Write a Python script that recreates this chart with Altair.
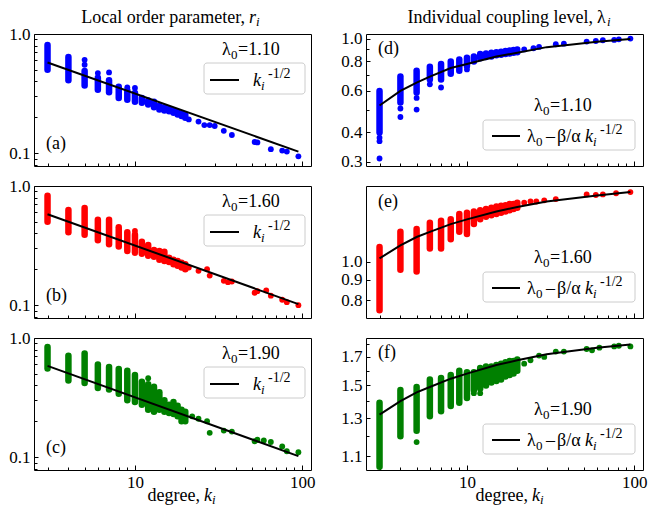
import altair as alt
import pandas as pd

FONT = "Liberation Serif"
BLUE, RED, GREEN = "#0000ff", "#ff0000", "#008000"

# ---------------- data ----------------
STRIP_K = [3, 4, 5, 6, 7, 8, 9, 10, 11, 12, 13, 14, 15, 16, 17, 18, 19, 20]

# (a) local order parameter, lambda0 = 1.10
A_LO = [0.50, 0.41, 0.37, 0.34, 0.325, 0.29, 0.28, 0.27, 0.265, 0.256, 0.243, 0.233, 0.228, 0.225, 0.218, 0.211, 0.205, 0.198]
A_HI = [0.81, 0.64, 0.49, 0.43, 0.41, 0.36, 0.335, 0.32, 0.29, 0.277, 0.27, 0.25, 0.243, 0.235, 0.228, 0.222, 0.215, 0.21]
A_DOT_K = [5, 5, 6, 7, 9, 10, 21, 24, 26, 28, 30, 34, 38, 52, 54, 65, 76, 81, 95]
A_DOT_V = [0.607, 0.552, 0.47, 0.476, 0.357, 0.353, 0.192, 0.184, 0.172, 0.172, 0.169, 0.154, 0.142, 0.124, 0.123, 0.108, 0.105, 0.103, 0.094]

# (b) lambda0 = 1.60
B_LO = [0.50, 0.41, 0.39, 0.35, 0.325, 0.31, 0.285, 0.275, 0.27, 0.26, 0.255, 0.24, 0.235, 0.23, 0.22, 0.214, 0.207, 0.20]
B_HI = [0.83, 0.63, 0.655, 0.52, 0.52, 0.45, 0.41, 0.39, 0.34, 0.32, 0.29, 0.285, 0.28, 0.25, 0.24, 0.235, 0.227, 0.22]
B_DOT_K = [10, 21, 24, 27, 28, 34, 36, 38, 52, 54, 61, 65, 76, 81, 95]
B_DOT_V = [0.42, 0.207, 0.194, 0.20, 0.177, 0.16, 0.156, 0.158, 0.127, 0.131, 0.133, 0.12, 0.111, 0.106, 0.10]

# (c) lambda0 = 1.90
C_LO = [0.555, 0.44, 0.42, 0.38, 0.37, 0.34, 0.30, 0.29, 0.275, 0.25, 0.24, 0.25, 0.24, 0.235, 0.23, 0.22, 0.20, 0.20]
C_HI = [0.84, 0.71, 0.74, 0.60, 0.57, 0.55, 0.53, 0.49, 0.43, 0.41, 0.39, 0.35, 0.30, 0.275, 0.29, 0.27, 0.25, 0.24]
C_DOT_K = [12, 22, 24, 27, 28, 34, 38, 52, 54, 59, 65, 76, 81, 95]
C_DOT_V = [0.46, 0.22, 0.21, 0.20, 0.16, 0.167, 0.164, 0.136, 0.14, 0.138, 0.134, 0.123, 0.112, 0.11]

# k^-1/2 reference lines (left column)
LEFT_LINE_K = [3, 95]
A_LINE_V = [0.577, 0.103]
B_LINE_V = [0.58, 0.102]
C_LINE_V = [0.584, 0.102]

# (d) individual coupling level, lambda0 = 1.10
D_LO = [0.40, 0.535, 0.59, 0.67, 0.67, 0.71, 0.73, 0.765, 0.80, 0.825, 0.835, 0.84, 0.85, 0.855, 0.86, 0.865, 0.87, 0.875]
D_HI = [0.60, 0.69, 0.73, 0.76, 0.78, 0.80, 0.815, 0.83, 0.84, 0.86, 0.865, 0.87, 0.875, 0.88, 0.885, 0.89, 0.895, 0.90]
D_DOT_K = [3, 3, 3, 4, 4, 5, 5, 6, 7, 10, 22, 25, 27, 34, 38, 52, 59, 65, 76, 81, 95]
D_DOT_V = [0.38, 0.367, 0.31, 0.505, 0.465, 0.56, 0.50, 0.64, 0.62, 0.74, 0.90, 0.91, 0.922, 0.946, 0.952, 0.971, 0.977, 0.984, 0.987, 0.993, 1.0]

# (e) lambda0 = 1.60
E_LO = [0.754, 0.955, 0.945, 1.08, 1.08, 1.14, 1.19, 1.175, 1.245, 1.28, 1.30, 1.31, 1.32, 1.33, 1.34, 1.35, 1.36, 1.37]
E_HI = [1.09, 1.19, 1.21, 1.255, 1.27, 1.28, 1.32, 1.33, 1.34, 1.35, 1.36, 1.37, 1.38, 1.385, 1.39, 1.40, 1.40, 1.41]
E_DOT_K = [22, 24, 26, 29, 34, 52, 59, 65, 78, 95]
E_DOT_V = [1.41, 1.42, 1.42, 1.43, 1.44, 1.48, 1.475, 1.48, 1.49, 1.50]

# (f) lambda0 = 1.90
F_LO = [1.05, 1.20, 1.23, 1.31, 1.34, 1.37, 1.39, 1.42, 1.47, 1.48, 1.50, 1.52, 1.53, 1.54, 1.56, 1.57, 1.58, 1.60]
F_HI = [1.39, 1.47, 1.49, 1.54, 1.55, 1.57, 1.60, 1.59, 1.59, 1.62, 1.63, 1.63, 1.64, 1.65, 1.66, 1.67, 1.67, 1.68]
F_DOT_K = [5, 11, 12, 20, 22, 24, 27, 29, 34, 38, 52, 56, 62, 76, 81, 95]
F_DOT_V = [1.17, 1.45, 1.45, 1.675, 1.65, 1.675, 1.71, 1.70, 1.74, 1.74, 1.76, 1.75, 1.77, 1.78, 1.785, 1.78]

# lambda0 - beta/alpha k^-1/2 reference curves (right column)
RIGHT_LINE_K = [3, 4, 5, 6, 8, 10, 15, 20, 30, 40, 60, 95]
D_LINE_V = [0.52, 0.60, 0.65, 0.69, 0.75, 0.78, 0.84, 0.87, 0.92, 0.94, 0.97, 0.997]
E_LINE_V = [1.02, 1.10, 1.155, 1.19, 1.245, 1.28, 1.34, 1.375, 1.42, 1.44, 1.47, 1.50]
F_LINE_V = [1.32, 1.40, 1.455, 1.49, 1.545, 1.58, 1.64, 1.675, 1.72, 1.74, 1.77, 1.795]

# axes
X_DOMAIN = [2.49, 113]
X_MAJOR = [10, 100]
X_MINOR = [3, 4, 5, 6, 7, 8, 9, 20, 30, 40, 50, 60, 70, 80, 90]
LEFT_Y_DOMAIN = [0.078, 1.0]
LEFT_Y_MAJOR = [0.1, 1.0]
LEFT_Y_MINOR = [0.08, 0.09, 0.2, 0.3, 0.4, 0.5, 0.6, 0.7, 0.8, 0.9]
D_Y_DOMAIN = [0.288, 1.046]
D_Y_MAJOR = [0.3, 0.4, 0.6, 0.8, 1.0]
D_Y_MINOR = [0.5, 0.7, 0.9]
E_Y_DOMAIN = [0.721, 1.554]
E_Y_MAJOR = [0.8, 0.9, 1.0]
E_Y_MINOR = []
F_Y_DOMAIN = [1.035, 1.847]
F_Y_MAJOR = [1.1, 1.3, 1.5, 1.7]
F_Y_MINOR = [1.2, 1.4, 1.6, 1.8]

LAMBDAS = ["=1.10", "=1.60", "=1.90"]

W, H = 277, 132
FS = 18
TFS = 17
SUB = 13
ONE = pd.DataFrame({"a": [0]})


def txt(s, x, y, size=FS, italic=False, align="left"):
    return alt.Chart(ONE).mark_text(
        text=s, font=FONT, fontSize=size, fontStyle="italic" if italic else "normal",
        align=align, baseline="alphabetic", color="black"
    ).encode(x=alt.value(x), y=alt.value(y))


def axis(values, orient, size, labels):
    kw = dict(values=values, orient=orient, tickSize=size, offset=-size, labels=labels,
              domain=False, grid=False, title=None, tickColor="black", tickWidth=1)
    if labels:
        kw.update(format=".1f" if orient == "left" else "d", labelPadding=4,
                  labelFont=FONT, labelFontSize=TFS, labelColor="black",
                  labelOverlap=False, labelFlush=False)
    return alt.Axis(**kw)


def panel(color, lo, hi, dk, dv, lk, lv, ydom, ymaj, ymin, bottom, letter, letter_y,
          lam, left, title=None):
    xs = alt.Scale(type="log", domain=X_DOMAIN, nice=False, zero=False)
    ys = alt.Scale(type="log", domain=ydom, nice=False, zero=False)
    strips = alt.Chart(pd.DataFrame({"k": STRIP_K, "lo": lo, "hi": hi})).mark_rule(
        color=color, strokeWidth=6.5, strokeCap="round"
    ).encode(
        x=alt.X("k:Q", scale=xs, axis=axis(X_MAJOR, "bottom", 5, bottom)),
        y=alt.Y("lo:Q", scale=ys, axis=axis(ymaj, "left", 4, True)),
        y2="hi:Q",
    )
    dots = alt.Chart(pd.DataFrame({"k": dk, "v": dv})).mark_circle(
        color=color, size=34, opacity=1
    ).encode(
        x=alt.X("k:Q", scale=xs, axis=None),
        y=alt.Y("v:Q", scale=ys, axis=None),
    )
    line = alt.Chart(pd.DataFrame({"k": lk, "v": lv})).mark_line(
        color="black", strokeWidth=2
    ).encode(
        x=alt.X("k:Q", scale=xs, axis=axis(X_MINOR, "bottom", 3, False)),
        y=alt.Y("v:Q", scale=ys, axis=axis(ymin, "left", 3, False) if ymin else None),
    )
    layers = [strips, dots, line]
    if left:
        bx0, bx1, by0, by1 = 170, 271, 29, 60
        ly = 46
        layers += [
            alt.Chart(ONE).mark_rect(fill="white", fillOpacity=0.8, stroke="#cccccc",
                                     strokeWidth=1, cornerRadius=3).encode(
                x=alt.value(bx0), x2=alt.value(bx1), y=alt.value(by0), y2=alt.value(by1)),
            alt.Chart(ONE).mark_rule(color="black", strokeWidth=2).encode(
                x=alt.value(176), x2=alt.value(205), y=alt.value(ly)),
            txt("k", 219, ly + 6, italic=True),
            txt("i", 227, ly + 10, size=SUB, italic=True),
            txt("-1/2", 234, ly - 2, size=14),
            txt("λ", 188, 21), txt("0", 197, 25, size=SUB), txt(lam, 204, 21),
        ]
    else:
        bx0, bx1, by0, by1 = 117, 269, 86, 116
        ly = 102
        layers += [
            alt.Chart(ONE).mark_rect(fill="white", fillOpacity=0.8, stroke="#cccccc",
                                     strokeWidth=1, cornerRadius=3).encode(
                x=alt.value(bx0), x2=alt.value(bx1), y=alt.value(by0), y2=alt.value(by1)),
            alt.Chart(ONE).mark_rule(color="black", strokeWidth=2).encode(
                x=alt.value(126), x2=alt.value(154), y=alt.value(ly)),
            txt("λ", 161, ly + 6), txt("0", 170, ly + 10, size=SUB),
            txt("–", 180, ly + 6),
            txt("β/α", 191, ly + 6),
            txt("k", 219, ly + 6, italic=True),
            txt("i", 227, ly + 10, size=SUB, italic=True),
            txt("-1/2", 234, ly - 2, size=14),
            txt("λ", 168, 77), txt("0", 177, 81, size=SUB), txt(lam, 184, 77),
        ]
    layers.append(txt(letter, 12, letter_y))
    if bottom:
        cx = 166 if left else 162
        layers += [txt("degree,", cx, H + 31, align="right"),
                   txt("k", cx + 4, H + 31, italic=True),
                   txt("i", cx + 12, H + 34, size=SUB, italic=True)]
    if title is not None:
        main, end, is_r = title
        layers += [txt(main, end, -11, align="right")]
        if is_r:
            layers += [txt("r", end + 4, -11, italic=True),
                       txt("i", end + 11, -8, size=SUB, italic=True)]
        else:
            layers += [txt("λ", end + 4, -11),
                       txt("i", end + 14, -8, size=SUB, italic=True)]
    return alt.layer(*layers).resolve_axis(x="independent", y="independent").properties(
        width=W, height=H)


pa = panel(BLUE, A_LO, A_HI, A_DOT_K, A_DOT_V, LEFT_LINE_K, A_LINE_V, LEFT_Y_DOMAIN,
           LEFT_Y_MAJOR, LEFT_Y_MINOR, False, "(a)", 115, LAMBDAS[0], True,
           title=("Local order parameter,", 211, True))
pb = panel(RED, B_LO, B_HI, B_DOT_K, B_DOT_V, LEFT_LINE_K, B_LINE_V, LEFT_Y_DOMAIN,
           LEFT_Y_MAJOR, LEFT_Y_MINOR, False, "(b)", 115, LAMBDAS[1], True)
pc = panel(GREEN, C_LO, C_HI, C_DOT_K, C_DOT_V, LEFT_LINE_K, C_LINE_V, LEFT_Y_DOMAIN,
           LEFT_Y_MAJOR, LEFT_Y_MINOR, True, "(c)", 115, LAMBDAS[2], True)
pd_ = panel(BLUE, D_LO, D_HI, D_DOT_K, D_DOT_V, RIGHT_LINE_K, D_LINE_V, D_Y_DOMAIN,
            D_Y_MAJOR, D_Y_MINOR, False, "(d)", 20, LAMBDAS[0], False,
            title=("Individual coupling level,", 227, False))
pe = panel(RED, E_LO, E_HI, E_DOT_K, E_DOT_V, RIGHT_LINE_K, E_LINE_V, E_Y_DOMAIN,
           E_Y_MAJOR, E_Y_MINOR, False, "(e)", 21, LAMBDAS[1], False)
pf = panel(GREEN, F_LO, F_HI, F_DOT_K, F_DOT_V, RIGHT_LINE_K, F_LINE_V, F_Y_DOMAIN,
           F_Y_MAJOR, F_Y_MINOR, True, "(f)", 20, LAMBDAS[2], False)

chart = alt.concat(pa, pd_, pb, pe, pc, pf, columns=2,
                   spacing={"row": 20, "column": 55}, bounds="flush").properties(
    padding={"left": 0, "top": 0, "right": 0, "bottom": 0}
).configure_view(stroke="black", strokeWidth=1).configure_axis(grid=False)

chart.save("out.html", embed_options={"renderer": "svg", "actions": False})
